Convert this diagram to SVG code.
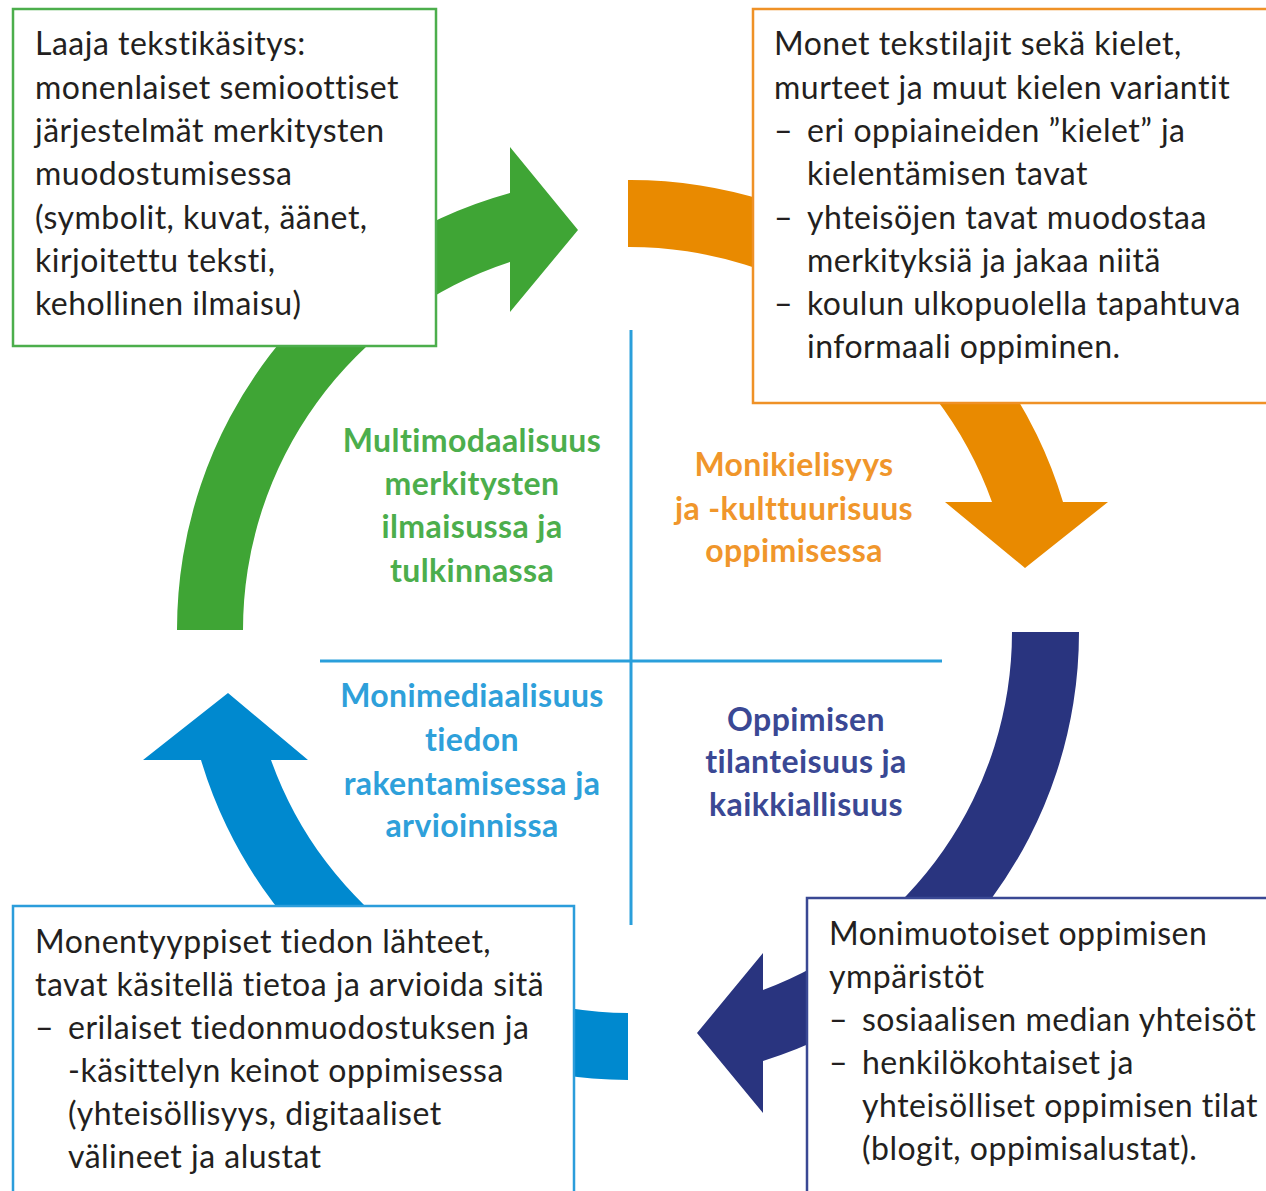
<svg xmlns="http://www.w3.org/2000/svg" width="1266" height="1191" viewBox="0 0 1266 1191">
<style>
.box{fill:#fff;stroke-width:2.5}
.t{font-family:Lato,"Noto Sans","Liberation Sans",sans-serif;font-size:32px;letter-spacing:0.5px;fill:#231f20}
.lab{font-family:Lato,"Noto Sans","Liberation Sans",sans-serif;font-size:32px;letter-spacing:0.4px;font-weight:700;text-anchor:middle}
.axis{stroke:#2a9fdb;stroke-width:3;fill:none}
</style>
<rect width="1266" height="1191" fill="#fff"/>
<g id="connectors">
<path id="arrow-green" fill="#3fa535" d="M177,630 A453,453 0 0 1 510,193 L510,147 L578,230 L510,312 L510,262 A387,387 0 0 0 243,630 Z"/>
<path id="arrow-orange" fill="#e98a00" d="M628,180 A452,452 0 0 1 1063,502 L1108,502 L1025,568 L945,502 L992,502 A385,385 0 0 0 628,247 Z"/>
<path id="arrow-navy" fill="#29347f" d="M1079,632 A449,449 0 0 1 763,1061 L763,1113 L697,1033 L763,953 L763,990 A382,382 0 0 0 1012,632 Z"/>
<path id="arrow-blue" fill="#0089cf" d="M628,1080 A448,448 0 0 1 201,760 L143,760 L228,693 L308,760 L271,760 A381,381 0 0 0 628,1013 Z"/>
</g>
<g id="axes">
<line class="axis" x1="631" y1="330" x2="631" y2="925"/>
<line class="axis" x1="320" y1="661" x2="942" y2="661"/>
</g>
<g id="node-green">
<rect class="box" x="13" y="9" width="423" height="337" stroke="#4cae4c"/>
<text class="t"><tspan x="35" y="55">Laaja tekstikäsitys:</tspan><tspan x="35" y="99">monenlaiset semioottiset</tspan><tspan x="35" y="142">järjestelmät merkitysten</tspan><tspan x="35" y="185">muodostumisessa</tspan><tspan x="35" y="229">(symbolit, kuvat, äänet,</tspan><tspan x="35" y="272">kirjoitettu teksti,</tspan><tspan x="35" y="315">kehollinen ilmaisu)</tspan></text>
</g>
<g id="node-orange">
<rect class="box" x="753" y="9" width="530" height="394" stroke="#ef9126"/>
<text class="t"><tspan x="774" y="55">Monet tekstilajit sekä kielet,</tspan><tspan x="774" y="99">murteet ja muut kielen variantit</tspan><tspan x="774" y="142">–</tspan><tspan x="807" y="142">eri oppiaineiden ”kielet” ja</tspan><tspan x="807" y="185">kielentämisen tavat</tspan><tspan x="774" y="229">–</tspan><tspan x="807" y="229">yhteisöjen tavat muodostaa</tspan><tspan x="807" y="272">merkityksiä ja jakaa niitä</tspan><tspan x="774" y="315">–</tspan><tspan x="807" y="315">koulun ulkopuolella tapahtuva</tspan><tspan x="807" y="358">informaali oppiminen.</tspan></text>
</g>
<g id="node-navy">
<rect class="box" x="807" y="898" width="480" height="310" stroke="#3a4894"/>
<text class="t"><tspan x="829" y="945">Monimuotoiset oppimisen</tspan><tspan x="829" y="988">ympäristöt</tspan><tspan x="829" y="1031">–</tspan><tspan x="862" y="1031">sosiaalisen median yhteisöt</tspan><tspan x="829" y="1074">–</tspan><tspan x="862" y="1074">henkilökohtaiset ja</tspan><tspan x="862" y="1117">yhteisölliset oppimisen tilat</tspan><tspan x="862" y="1160">(blogit, oppimisalustat).</tspan></text>
</g>
<g id="node-blue">
<rect class="box" x="13" y="906" width="561" height="300" stroke="#2b9ddb"/>
<text class="t"><tspan x="35" y="953">Monentyyppiset tiedon lähteet,</tspan><tspan x="35" y="996">tavat käsitellä tietoa ja arvioida sitä</tspan><tspan x="35" y="1039">–</tspan><tspan x="68" y="1039">erilaiset tiedonmuodostuksen ja</tspan><tspan x="68" y="1082">-käsittelyn keinot oppimisessa</tspan><tspan x="68" y="1125">(yhteisöllisyys, digitaaliset</tspan><tspan x="68" y="1168">välineet ja alustat</tspan></text>
</g>
<g id="label-green">
<text class="lab" fill="#4cae4c"><tspan x="472" y="452">Multimodaalisuus</tspan><tspan x="472" y="495">merkitysten</tspan><tspan x="472" y="538">ilmaisussa ja</tspan><tspan x="472" y="582">tulkinnassa</tspan></text>
</g>
<g id="label-orange">
<text class="lab" fill="#f0962b"><tspan x="794" y="476">Monikielisyys</tspan><tspan x="794" y="520">ja -kulttuurisuus</tspan><tspan x="794" y="562">oppimisessa</tspan></text>
</g>
<g id="label-blue">
<text class="lab" fill="#2ea0da"><tspan x="472" y="707">Monimediaalisuus</tspan><tspan x="472" y="751">tiedon</tspan><tspan x="472" y="795">rakentamisessa ja</tspan><tspan x="472" y="837">arvioinnissa</tspan></text>
</g>
<g id="label-navy">
<text class="lab" fill="#3a4894"><tspan x="806" y="731">Oppimisen</tspan><tspan x="806" y="773">tilanteisuus ja</tspan><tspan x="806" y="816">kaikkiallisuus</tspan></text>
</g>
</svg>
